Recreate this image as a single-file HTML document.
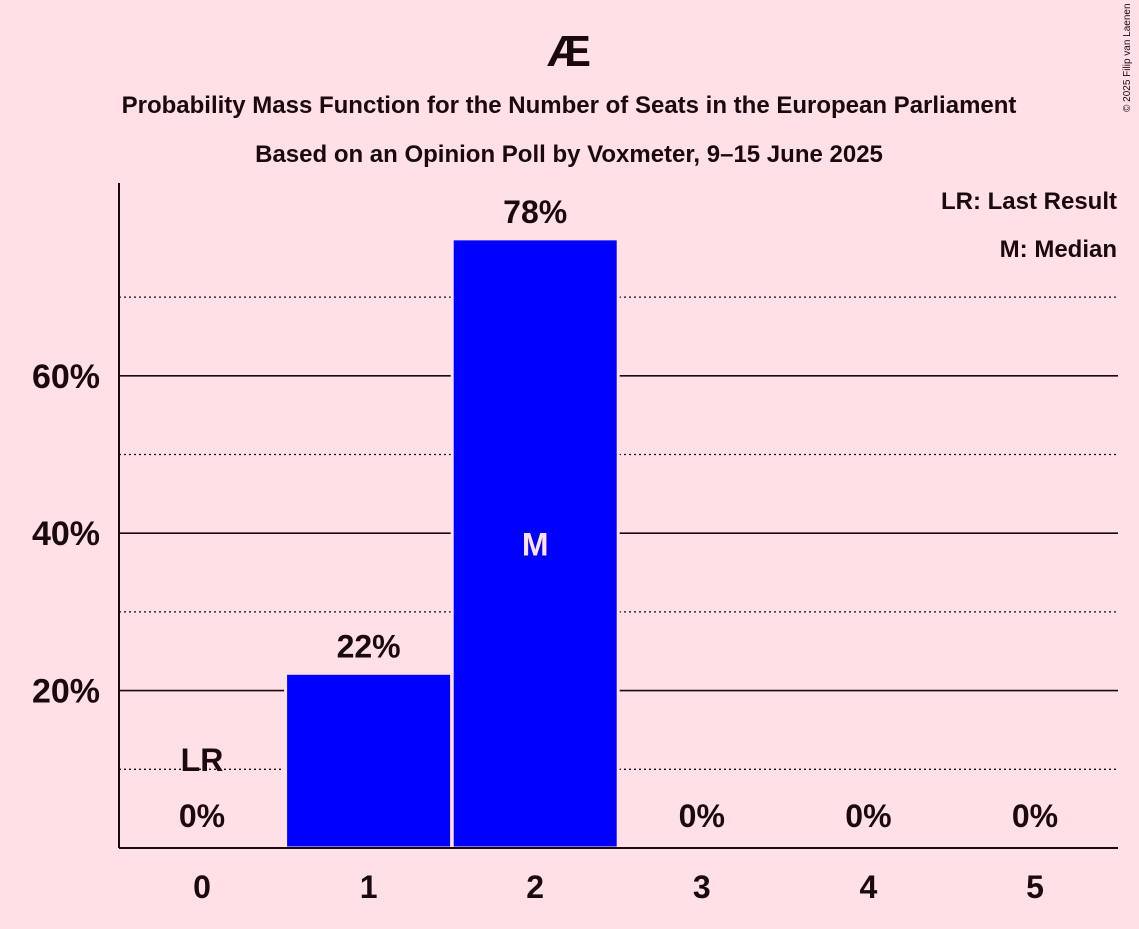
<!DOCTYPE html>
<html><head><meta charset="utf-8"><style>
body{margin:0;background:#ffe0e6;}
svg text{font-family:"Liberation Sans",sans-serif;font-weight:bold;fill:#1a0a10;}
</style></head><body>
<svg id="chart" width="1139" height="924" xmlns="http://www.w3.org/2000/svg">
<rect width="1139" height="924" fill="#ffe0e6"/>
<text x="569" y="66" font-size="44" text-anchor="middle">Æ</text>
<text x="569" y="113" font-size="24" text-anchor="middle">Probability Mass Function for the Number of Seats in the European Parliament</text>
<text x="569" y="162" font-size="24" text-anchor="middle">Based on an Opinion Poll by Voxmeter, 9–15 June 2025</text>
<text x="1130" y="112" font-size="10" font-weight="normal" transform="rotate(-90 1130 112)" style="font-weight:normal">© 2025 Filip van Laenen</text>
<text x="1117" y="209" font-size="24" text-anchor="end">LR: Last Result</text>
<text x="1117" y="257" font-size="24" text-anchor="end">M: Median</text>
<g id="grid"></g><g id="bars"></g><g id="labels"></g>
</svg>
<script>
const categories=[0,1,2,3,4,5];
const values=[0,22.2,77.4,0,0,0];
const valueLabels=["0%","22%","78%","0%","0%","0%"];
const yTicks=[20,40,60];
const yMinor=[10,30,50,70];
const lastResult=0, median=2;
const NS="http://www.w3.org/2000/svg";
const x=c=>202+c*166.6, y=v=>848-v*7.87;
function mk(t,a,p){const e=document.createElementNS(NS,t);for(const k in a)e.setAttribute(k,a[k]);p.appendChild(e);return e;}
const g=document.getElementById('grid'),b=document.getElementById('bars'),l=document.getElementById('labels');
yMinor.forEach(v=>{const e=mk('line',{x1:119,x2:1118,y1:y(v),y2:y(v),stroke:'#1a0a10','stroke-width':1.3,'stroke-dasharray':'2,3'},g);

});
yTicks.forEach(v=>{const e=mk('line',{x1:119,x2:1118,y1:y(v),y2:y(v),stroke:'#1a0a10','stroke-width':1.6},g);


const t=mk('text',{x:100,y:y(v)+12,'font-size':34,'text-anchor':'end'},l);t.textContent=v+'%';

});
categories.forEach((c,i)=>{
 if(values[i]>0){const r=mk('rect',{x:x(c)-83,y:y(values[i]),width:166,height:848-y(values[i]),fill:'#0000ff',stroke:'#ffe0e6','stroke-width':3},b);
 
 }
 const t=mk('text',{x:x(c),y:values[i]>0?y(values[i])-16:827,'font-size':32,'text-anchor':'middle'},l);t.textContent=valueLabels[i];
 
 
 const xt=mk('text',{x:x(c),y:898,'font-size':32,'text-anchor':'middle'},l);xt.textContent=c;
 
 
});
const lr=mk('text',{x:x(lastResult),y:771,'font-size':32,'text-anchor':'middle'},l);lr.textContent='LR';


const m=mk('text',{x:x(median),y:y(values[median]/2)+12,'font-size':32,'text-anchor':'middle',style:'fill:#ffe0e6'},l);m.textContent='M';


const ax=mk('line',{x1:119,x2:119,y1:183,y2:848,stroke:'#1a0a10','stroke-width':2},l);


const bx=mk('line',{x1:119,x2:1118,y1:848,y2:848,stroke:'#1a0a10','stroke-width':2},l);


</script>
</body></html>
